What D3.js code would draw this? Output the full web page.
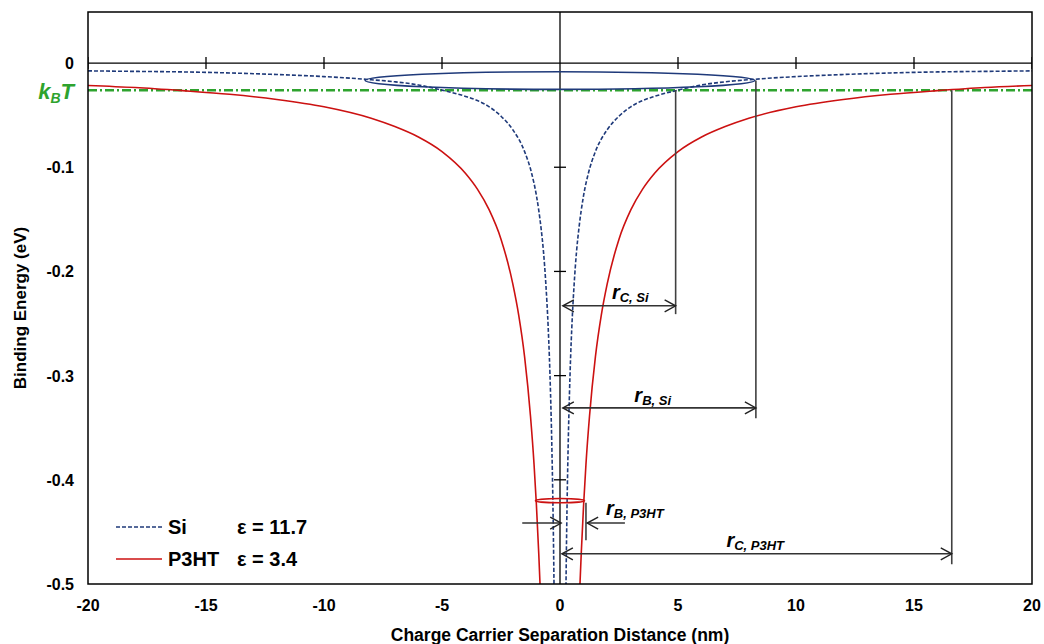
<!DOCTYPE html>
<html>
<head>
<meta charset="utf-8">
<script src="https://cdn.jsdelivr.net/npm/d3@7"></script>
<style>
  body { margin: 0; background: #fff; }
  text { font-family: "Liberation Sans", Arial, sans-serif; font-weight: bold; }
</style>
</head>
<body>
<div id="chart"></div>
<script>
// Data
var xTicks = [-20, -15, -10, -5, 0, 5, 10, 15, 20];
var yTicks = [0, -0.1, -0.2, -0.3, -0.4, -0.5];

// Si (eps = 11.7): distance from centre (nm) and binding energy (eV)
var siDist   = [0.25, 0.27, 0.3, 0.35, 0.4, 0.45, 0.5, 0.6, 0.7, 0.8, 1.0, 1.2, 1.5, 2, 2.5, 3, 3.5, 4, 5, 6, 7, 8, 10, 12, 14, 16, 18, 20];
var siEnergy = [-0.508, -0.47, -0.423, -0.363, -0.318, -0.282, -0.254, -0.212, -0.181, -0.159, -0.127, -0.106, -0.085, -0.064, -0.051, -0.042, -0.036, -0.032, -0.026, -0.021, -0.018, -0.016, -0.013, -0.011, -0.0095, -0.0085, -0.008, -0.0075];

// P3HT (eps = 3.4)
var p3htDist   = [0.82, 0.85, 0.9, 1.0, 1.1, 1.25, 1.5, 1.75, 2, 2.5, 3, 3.5, 4, 5, 6, 7, 8, 10, 12, 14, 16, 18, 20];
var p3htEnergy = [-0.516, -0.498, -0.471, -0.424, -0.385, -0.339, -0.282, -0.242, -0.212, -0.169, -0.141, -0.121, -0.106, -0.085, -0.071, -0.061, -0.053, -0.042, -0.035, -0.030, -0.0265, -0.0235, -0.0215];

var kBT = -0.026;

// characteristic radii (nm)
var rC_Si = 4.9, rB_Si = 8.3, rB_P3HT = 1.1, rC_P3HT = 16.6;

// energy levels of the annotation arrows / ellipses (eV)
var arrowLevels = { rC_Si: -0.233, rB_Si: -0.331, rB_P3HT: -0.4415, rC_P3HT: -0.471 };
var siEllipse = { cx: 0, cy: -0.0168, rx: 8.26, ry: 0.0085 };
var p3htEllipse = { cx: 0, cy: -0.42, rx: 1.04, ry: 0.002 };

// Set up chart
var svgWidth = 1044, svgHeight = 644;
var plot = { left: 88, right: 1032, top: 12, bottom: 584 };

var blue = "#1f3a7a", red = "#cc1111", green = "#2ea32e", grey = "#404040";

var svg = d3.select("#chart").append("svg")
  .attr("width", svgWidth)
  .attr("height", svgHeight);

var x = d3.scaleLinear().domain([-20, 20]).range([plot.left, plot.right]);
var y = d3.scaleLinear().domain([-0.5, 0.049]).range([plot.bottom, plot.top]);

svg.append("clipPath").attr("id", "clip")
  .append("rect")
  .attr("x", plot.left).attr("y", plot.top)
  .attr("width", plot.right - plot.left).attr("height", plot.bottom - plot.top);

var g = svg.append("g");
var clipped = g.append("g").attr("clip-path", "url(#clip)");

// axes through the origin
clipped.append("line")
  .attr("x1", plot.left).attr("x2", plot.right)
  .attr("y1", y(0)).attr("y2", y(0))
  .attr("stroke", "#000").attr("stroke-width", 1.3);
clipped.append("line")
  .attr("x1", x(0)).attr("x2", x(0))
  .attr("y1", plot.top).attr("y2", plot.bottom)
  .attr("stroke", "#000").attr("stroke-width", 1.3);

// crossing ticks on the zero lines
clipped.selectAll(".xt").data(xTicks.filter(d => d !== 0)).enter()
  .append("line")
  .attr("x1", d => x(d)).attr("x2", d => x(d))
  .attr("y1", y(0) - 6).attr("y2", y(0) + 6)
  .attr("stroke", "#000").attr("stroke-width", 1.3);
clipped.selectAll(".yt").data(yTicks.filter(d => d !== 0 && d !== -0.5)).enter()
  .append("line")
  .attr("x1", x(0) - 6).attr("x2", x(0) + 6)
  .attr("y1", d => y(d)).attr("y2", d => y(d))
  .attr("stroke", "#000").attr("stroke-width", 1.3);

// kBT line
clipped.append("line")
  .attr("x1", plot.left).attr("x2", plot.right)
  .attr("y1", y(kBT)).attr("y2", y(kBT))
  .attr("stroke", green).attr("stroke-width", 2.5)
  .attr("stroke-dasharray", "9,3,2,3");

// curves, one path per branch
var line = d3.line().x(d => x(d[0])).y(d => y(d[1])).curve(d3.curveMonotoneX);

function branches(dist, energy) {
  var right = dist.map((r, i) => [r, energy[i]]);
  var left = dist.map((r, i) => [-r, energy[i]]).reverse();
  return [left, right];
}

branches(p3htDist, p3htEnergy).forEach(function(b) {
  clipped.append("path").attr("d", line(b))
    .attr("fill", "none").attr("stroke", red).attr("stroke-width", 1.6);
});
branches(siDist, siEnergy).forEach(function(b) {
  clipped.append("path").attr("d", line(b))
    .attr("fill", "none").attr("stroke", blue).attr("stroke-width", 1.6)
    .attr("stroke-dasharray", "4,2");
});

// ellipses
[[siEllipse, blue], [p3htEllipse, red]].forEach(function(e) {
  var el = e[0];
  clipped.append("ellipse")
    .attr("cx", x(el.cx)).attr("cy", y(el.cy))
    .attr("rx", x(el.rx) - x(0)).attr("ry", y(0) - y(el.ry))
    .attr("fill", "none").attr("stroke", e[1]).attr("stroke-width", 1.6);
});

// vertical marker lines
var markers = [
  { r: rC_Si, top: kBT, bottom: -0.241 },
  { r: rB_Si, top: siEllipse.cy, bottom: -0.341 },
  { r: rC_P3HT, top: kBT, bottom: -0.481 },
  { r: rB_P3HT, top: -0.422, bottom: -0.458 }
];
clipped.selectAll(".mk").data(markers).enter()
  .append("line")
  .attr("x1", d => x(d.r)).attr("x2", d => x(d.r))
  .attr("y1", d => y(d.top)).attr("y2", d => y(d.bottom))
  .attr("stroke", grey).attr("stroke-width", 1.6);

// arrows with open chevron heads
function head(px, py, dir) {
  var p = d3.path();
  p.moveTo(px - dir * 11, py - 6);
  p.lineTo(px, py);
  p.lineTo(px - dir * 11, py + 6);
  g.append("path").attr("d", p.toString())
    .attr("fill", "none").attr("stroke", "#222").attr("stroke-width", 1.4);
}
function arrow(x0, x1, level, headLeft, headRight) {
  var py = y(level);
  g.append("line").attr("x1", x(x0)).attr("x2", x(x1))
    .attr("y1", py).attr("y2", py)
    .attr("stroke", "#333").attr("stroke-width", 1.6);
  if (headLeft) head(x(x0), py, -1);
  if (headRight) head(x(x1), py, 1);
}
arrow(0.12, rC_Si, arrowLevels.rC_Si, true, true);
arrow(0.12, rB_Si, arrowLevels.rB_Si, true, true);
arrow(0.08, rC_P3HT, arrowLevels.rC_P3HT, true, true);
arrow(-1.6, 0.05, arrowLevels.rB_P3HT, false, true);
arrow(rB_P3HT + 0.05, 2.75, arrowLevels.rB_P3HT, true, false);

// r labels
function rLabel(px, py, sub) {
  var t = g.append("text").attr("x", px).attr("y", py)
    .attr("font-style", "italic").attr("font-size", 20).attr("fill", "#000");
  t.append("tspan").text("r");
  t.append("tspan").attr("font-size", 13).attr("dy", 3).text(sub);
}
rLabel(x(2.2), y(arrowLevels.rC_Si) - 7, "C, Si");
rLabel(x(3.15), y(arrowLevels.rB_Si) - 6, "B, Si");
rLabel(x(1.95), y(arrowLevels.rB_P3HT) - 8, "B, P3HT");
rLabel(x(7.05), y(arrowLevels.rC_P3HT) - 7, "C, P3HT");

// frame
g.append("rect")
  .attr("x", plot.left).attr("y", plot.top)
  .attr("width", plot.right - plot.left).attr("height", plot.bottom - plot.top)
  .attr("fill", "none").attr("stroke", "#000").attr("stroke-width", 1.5);

// tick labels
g.selectAll(".xl").data(xTicks).enter()
  .append("text")
  .attr("x", d => x(d)).attr("y", plot.bottom + 27)
  .attr("text-anchor", "middle").attr("font-size", 16)
  .text(d => String(d));
g.selectAll(".yl").data(yTicks).enter()
  .append("text")
  .attr("x", plot.left - 14).attr("y", d => y(d) + 6)
  .attr("text-anchor", "end").attr("font-size", 16)
  .text(d => d === 0 ? "0" : d.toFixed(1));

// kBT label
var kt = g.append("text").attr("x", plot.left - 14).attr("y", y(kBT) + 9)
  .attr("text-anchor", "end").attr("font-style", "italic")
  .attr("font-size", 22).attr("fill", green);
kt.append("tspan").text("k");
kt.append("tspan").attr("font-size", 14).attr("dy", 4).text("B");
kt.append("tspan").attr("dy", -4).text("T");

// axis titles
g.append("text")
  .attr("x", x(0)).attr("y", 641)
  .attr("text-anchor", "middle").attr("font-size", 17.5)
  .text("Charge Carrier Separation Distance (nm)");
g.append("text")
  .attr("transform", "translate(26, 308) rotate(-90)")
  .attr("text-anchor", "middle").attr("font-size", 17)
  .text("Binding Energy (eV)");

// legend
var legend = [
  { name: "Si", eps: "\u03b5 = 11.7", color: blue, dash: "4,2", ly: 527 },
  { name: "P3HT", eps: "\u03b5 = 3.4", color: red, dash: null, ly: 559 }
];
legend.forEach(function(l) {
  g.append("line").attr("x1", 116).attr("x2", 162)
    .attr("y1", l.ly).attr("y2", l.ly)
    .attr("stroke", l.color).attr("stroke-width", 1.6)
    .attr("stroke-dasharray", l.dash);
  g.append("text").attr("x", 168).attr("y", l.ly + 7).attr("font-size", 20).text(l.name);
  g.append("text").attr("x", 237).attr("y", l.ly + 7).attr("font-size", 20).text(l.eps);
});
</script>
</body>
</html>
